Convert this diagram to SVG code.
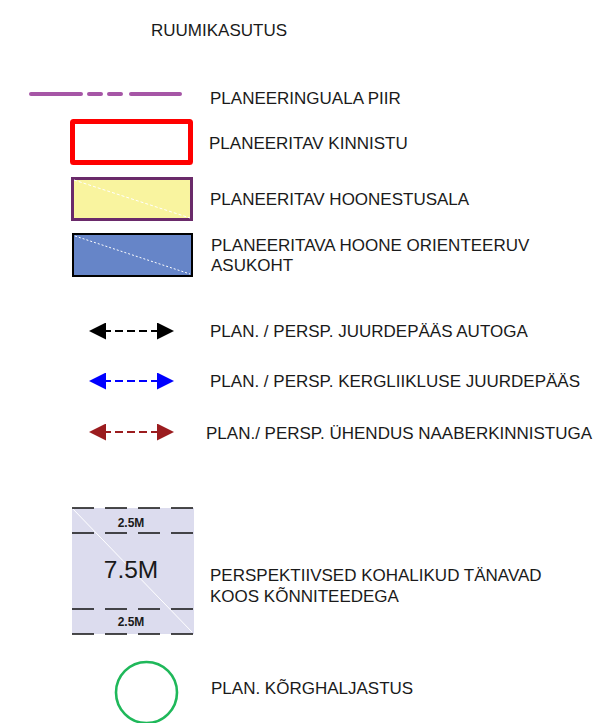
<svg xmlns="http://www.w3.org/2000/svg" width="615" height="723" viewBox="0 0 615 723">
<style>
text{font-family:"Liberation Sans",Arial,sans-serif;fill:#1a1a1a}
.lbl{font-size:17px}
.dash{stroke:#111;stroke-width:1.6;stroke-dasharray:22 11;fill:none}
</style>
<defs>
<marker id="ahB" viewBox="0 0 17 17" refX="17" refY="8.5" markerWidth="17" markerHeight="17" markerUnits="userSpaceOnUse" orient="auto-start-reverse"><path d="M0,0 L17,8.5 L0,17 Z" fill="#000"/></marker>
<marker id="ahU" viewBox="0 0 17 17" refX="17" refY="8.5" markerWidth="17" markerHeight="17" markerUnits="userSpaceOnUse" orient="auto-start-reverse"><path d="M0,0 L17,8.5 L0,17 Z" fill="#0000ff"/></marker>
<marker id="ahR" viewBox="0 0 17 17" refX="17" refY="8.5" markerWidth="17" markerHeight="17" markerUnits="userSpaceOnUse" orient="auto-start-reverse"><path d="M0,0 L17,8.5 L0,17 Z" fill="#9b1c1f"/></marker>
</defs>
<rect width="615" height="723" fill="#fff"/>
<text class="lbl" x="151" y="36">RUUMIKASUTUS</text>

<g id="piir">
<path d="M31,94 H81 M89,94 H101 M109,94 H121 M131,94 H180" stroke="#a656a6" stroke-width="4" stroke-linecap="round" fill="none"/>
<text class="lbl" x="210" y="104">PLANEERINGUALA PIIR</text>
</g>

<g id="kinnistu">
<rect x="72.5" y="121.5" width="118" height="41" fill="#fff" stroke="#ff0000" stroke-width="5" rx="1"/>
<text class="lbl" x="209" y="149">PLANEERITAV KINNISTU</text>
</g>

<g id="hoonestusala">
<rect x="72.5" y="178.5" width="119" height="41" fill="#f9f49f" stroke="#6a2a6a" stroke-width="3"/>
<line x1="74" y1="180" x2="190" y2="218" stroke="#fff" stroke-width="1" stroke-dasharray="3 2"/>
<text class="lbl" x="210" y="205">PLANEERITAV HOONESTUSALA</text>
</g>

<g id="hoone">
<rect x="73" y="234" width="119" height="42" fill="#6685c8" stroke="#000" stroke-width="2"/>
<line x1="75" y1="236" x2="190" y2="274" stroke="#fff" stroke-width="1" stroke-dasharray="2 2"/>
<text class="lbl" x="211" y="251">PLANEERITAVA HOONE ORIENTEERUV</text>
<text class="lbl" x="211" y="271">ASUKOHT</text>
</g>

<g id="connectors">
<line x1="89" y1="331" x2="174" y2="331" stroke="#000" stroke-width="2" stroke-dasharray="8 4" stroke-dashoffset="-2" marker-start="url(#ahB)" marker-end="url(#ahB)"/>
<line x1="89" y1="381" x2="174" y2="381" stroke="#0000ff" stroke-width="2" stroke-dasharray="8 4" stroke-dashoffset="-2" marker-start="url(#ahU)" marker-end="url(#ahU)"/>
<line x1="89" y1="432" x2="174" y2="432" stroke="#9b1c1f" stroke-width="2" stroke-dasharray="8 4" stroke-dashoffset="-2" marker-start="url(#ahR)" marker-end="url(#ahR)"/>
</g>
<g id="autoga"><text class="lbl" x="210" y="337">PLAN. / PERSP. JUURDEPÄÄS AUTOGA</text></g>
<g id="kergliiklus"><text class="lbl" x="210" y="387">PLAN. / PERSP. KERGLIIKLUSE JUURDEPÄÄS</text></g>
<g id="uhendus"><text class="lbl" x="206" y="439">PLAN./ PERSP. ÜHENDUS NAABERKINNISTUGA</text></g>

<g id="tanavad">
<rect x="72" y="508" width="122" height="126" fill="#dcdcee"/>
<line x1="72" y1="508" x2="192" y2="632" stroke="#fff" stroke-width="1"/>
<line class="dash" x1="72" y1="508" x2="194" y2="508"/>
<line class="dash" x1="72" y1="533" x2="194" y2="533"/>
<line class="dash" x1="72" y1="609" x2="194" y2="609"/>
<line class="dash" x1="72" y1="634" x2="194" y2="634"/>
<text x="131" y="527" font-size="12" font-weight="bold" text-anchor="middle">2.5M</text>
<text x="131" y="578" font-size="24.5" text-anchor="middle">7.5M</text>
<text x="131" y="626" font-size="12" font-weight="bold" text-anchor="middle">2.5M</text>
<text class="lbl" x="210" y="581">PERSPEKTIIVSED KOHALIKUD TÄNAVAD</text>
<text class="lbl" x="210" y="602">KOOS KÕNNITEEDEGA</text>
</g>

<g id="haljastus">
<circle cx="146.5" cy="692.5" r="30.5" fill="none" stroke="#1fb85a" stroke-width="2.6"/>
<text class="lbl" x="211" y="694">PLAN. KÕRGHALJASTUS</text>
</g>
</svg>
